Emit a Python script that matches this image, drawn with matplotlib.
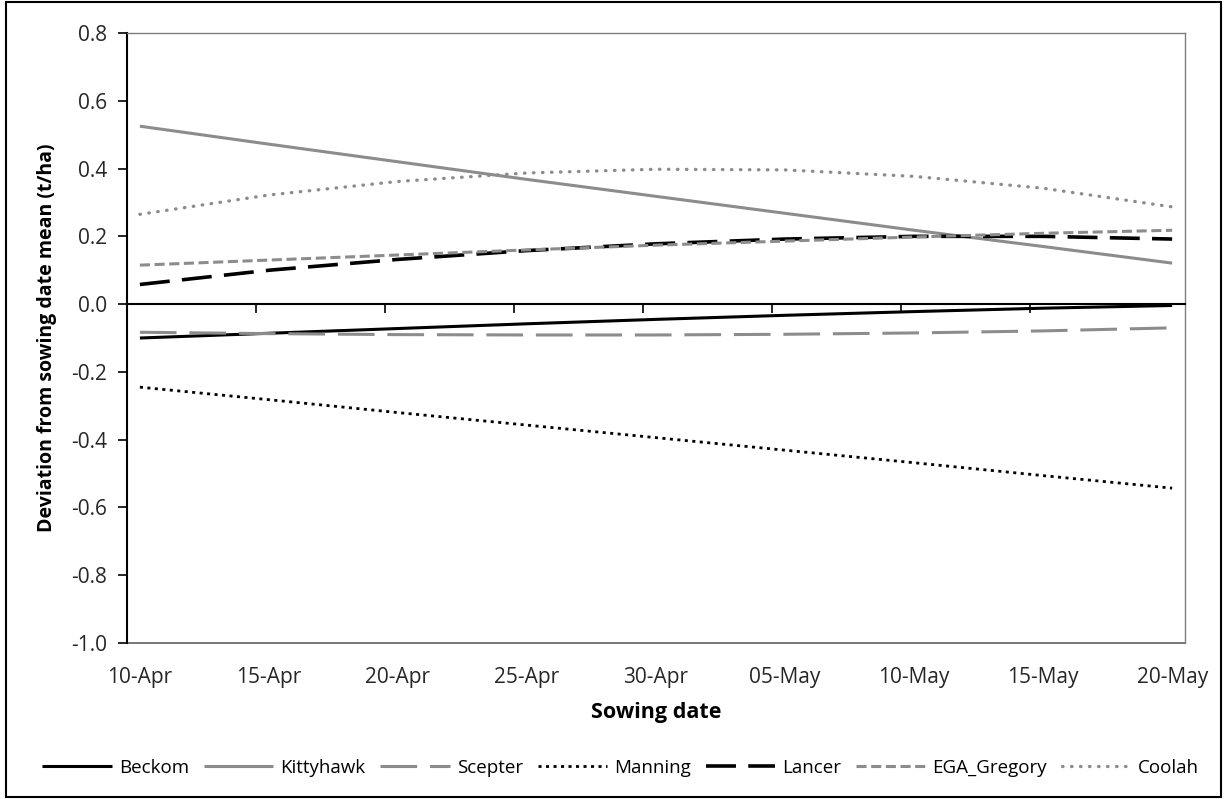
import matplotlib
matplotlib.use("Agg")
import matplotlib.pyplot as plt
from matplotlib.patches import Rectangle

plt.rcParams["font.family"] = ["Open Sans", "DejaVu Sans"]

# sowing dates, one category per day (10-Apr .. 20-May)
days = list(range(41))
day_labels = ["10-Apr", "15-Apr", "20-Apr", "25-Apr", "30-Apr",
              "05-May", "10-May", "15-May", "20-May"]
label_days = [0, 5, 10, 15, 20, 25, 30, 35, 40]

# values every 5 days
beckom = [-0.100, -0.086, -0.072, -0.058, -0.045, -0.033, -0.022, -0.012, -0.004]
kittyhawk = [0.525, 0.472, 0.420, 0.368, 0.318, 0.268, 0.218, 0.170, 0.121]
scepter = [-0.083, -0.087, -0.090, -0.091, -0.091, -0.089, -0.085, -0.079, -0.070]
manning = [-0.245, -0.282, -0.320, -0.357, -0.394, -0.431, -0.468, -0.506, -0.543]
lancer = [0.058, 0.100, 0.132, 0.158, 0.178, 0.192, 0.200, 0.200, 0.192]
ega_gregory = [0.115, 0.130, 0.145, 0.160, 0.174, 0.186, 0.198, 0.209, 0.218]
coolah = [0.265, 0.322, 0.362, 0.387, 0.398, 0.396, 0.377, 0.342, 0.287]

GREY = "#8c8c8c"

fig = plt.figure(figsize=(12.27, 7.99), dpi=100)
ax = fig.add_axes([0.1035, 0.1952, 0.8623, 0.7635])

# (series, label, color, linewidth, dashes, capstyle)
styles = [
    (beckom, "Beckom", "black", 2.2, None, "butt"),
    (kittyhawk, "Kittyhawk", GREY, 2.2, None, "butt"),
    (scepter, "Scepter", GREY, 2.2, (12.0, 4.2), "butt"),
    (manning, "Manning", "black", 2.0, (1.1, 1.6), "butt"),
    (lancer, "Lancer", "black", 2.6, (8.3, 3.4), "butt"),
    (ega_gregory, "EGA_Gregory", GREY, 2.2, (3.3, 1.5), "butt"),
    (coolah, "Coolah", GREY, 2.4, (0.15, 2.55), "round"),
]
for ys, lab, col, lw, dash, cap in styles:
    ln, = ax.plot(label_days, ys, color=col, lw=lw, label=lab,
                  solid_capstyle="butt")
    if dash is not None:
        ln.set_dashes(dash)
        ln.set_dash_capstyle(cap)

ax.set_xlim(-0.5, 40.5)
ax.set_ylim(-1.0, 0.8)
ax.set_yticks([-1.0, -0.8, -0.6, -0.4, -0.2, 0.0, 0.2, 0.4, 0.6, 0.8])
ax.set_yticklabels([f"{v:.1f}" for v in ax.get_yticks()])
ax.tick_params(axis="y", direction="out", length=6.5, width=1.2, labelsize=15,
               pad=8, colors="black", labelcolor="#262626")

# the category axis crosses at zero; ticks sit between categories
ax.spines["bottom"].set_position(("data", 0))
ax.spines["bottom"].set_linewidth(1.5)
ax.spines["left"].set_linewidth(1.5)
for s in ("top", "right"):
    ax.spines[s].set_color("#7f7f7f")
    ax.spines[s].set_linewidth(1.0)
ax.set_xticks([d - 0.5 for d in label_days[:-1]])
ax.set_xticklabels([])
ax.tick_params(axis="x", direction="out", length=6.5, width=1.2)

sec = ax.secondary_xaxis(0.0)
sec.set_xticks(label_days)
sec.set_xticklabels(day_labels)
sec.tick_params(axis="x", length=0, labelsize=15, pad=17, labelcolor="#262626")
sec.spines["bottom"].set_color("#5f5f5f")
sec.spines["bottom"].set_linewidth(1.2)
sec.set_xlabel("Sowing date", fontsize=15.5, fontweight="bold", labelpad=10)

ax.set_ylabel("Deviation from sowing date mean (t/ha)", fontsize=14,
              fontweight="bold", labelpad=10)

fig.legend(loc="center", bbox_to_anchor=(0.506, 0.039), ncol=7, frameon=False,
           fontsize=13.5, handlelength=3.7, columnspacing=0.8, handletextpad=0.37)

fig.patches.append(Rectangle((0.005, 0.003), 0.99, 0.994, transform=fig.transFigure,
                             fill=False, edgecolor="black", lw=1.5))

fig.savefig("out.png", dpi=100)
